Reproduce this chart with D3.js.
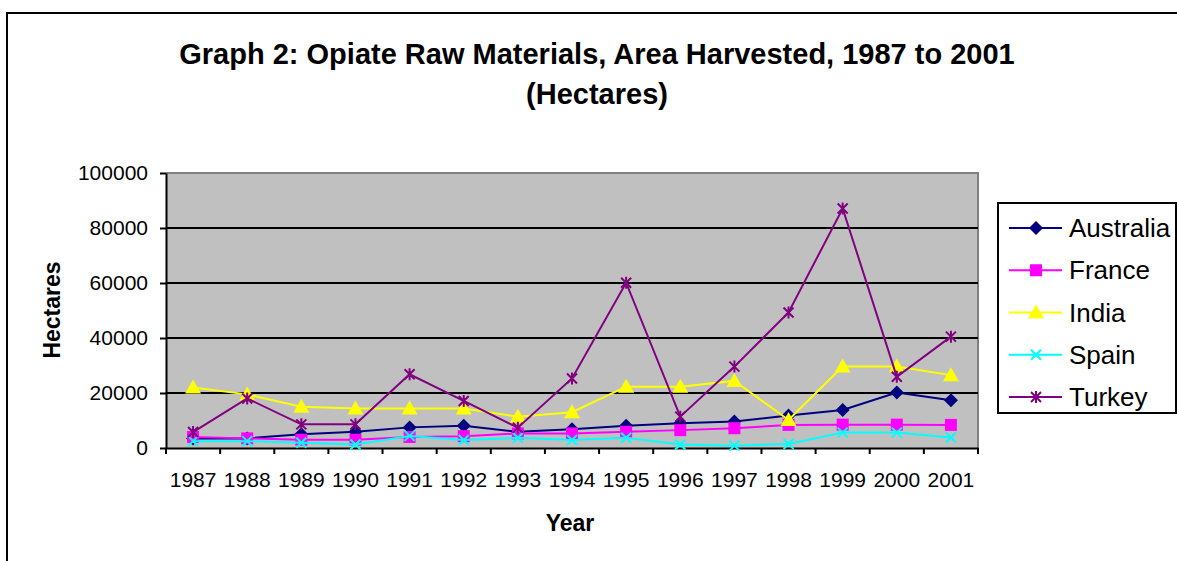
<!DOCTYPE html>
<meta charset="utf-8">
<style>
html, body { margin: 0; background: #fff; }
text { font-family: Arial, "Liberation Sans", sans-serif; fill: #000; }
.grid line { stroke: #000; stroke-width: 2; }
.axis path, .axis line { stroke: #000; stroke-width: 2; }
.axis text { font-size: 21px; }
.series { fill: none; stroke-width: 2; }
</style>
<body>
<script src="https://d3js.org/d3.v7.min.js"></script>
<script>
// data
var years = ["1987","1988","1989","1990","1991","1992","1993","1994","1995","1996","1997","1998","1999","2000","2001"];
var australia = [3500, 3500, 5000, 5900, 7500, 8100, 5900, 6800, 8100, 9000, 9600, 11800, 13800, 20200, 17400];
var france    = [4000, 3500, 3000, 3000, 4000, 4300, 5300, 5300, 5900, 6500, 7200, 8400, 8500, 8500, 8400];
var india     = [22000, 19500, 15000, 14400, 14400, 14400, 11400, 13000, 22300, 22300, 24400, 10200, 29600, 29600, 26500];
var spain     = [2500, 2500, 1900, 1300, 4400, 2900, 3700, 2900, 3700, 1300, 850, 1450, 5600, 5600, 3800];
var turkey    = [5800, 18000, 8600, 8600, 26800, 17100, 7400, 25300, 60100, 11400, 29600, 49300, 87100, 25900, 40500];
var yTicks = [0, 20000, 40000, 60000, 80000, 100000];

var series = [
  {name: "Australia", values: australia, color: "#000080", symbol: "diamond"},
  {name: "France",    values: france,    color: "#ff00ff", symbol: "square"},
  {name: "India",     values: india,     color: "#ffff00", symbol: "triangle"},
  {name: "Spain",     values: spain,     color: "#00ffff", symbol: "x"},
  {name: "Turkey",    values: turkey,    color: "#800080", symbol: "star"}
];

var W = 1177, H = 561;
var plot = {left: 166, top: 173, right: 978, bottom: 448};

var svg = d3.select("body").append("svg")
    .attr("width", W).attr("height", H);

// outer chart border (runs off right and bottom)
svg.append("rect")
    .attr("x", 7).attr("y", 13).attr("width", W + 10).attr("height", H + 10)
    .attr("fill", "#fff").attr("stroke", "#000").attr("stroke-width", 2);

var x = d3.scaleBand().domain(years).range([plot.left, plot.right]);
var y = d3.scaleLinear().domain([0, 100000]).range([plot.bottom, plot.top]);

// plot background
svg.append("rect")
    .attr("x", plot.left).attr("y", plot.top)
    .attr("width", plot.right - plot.left).attr("height", plot.bottom - plot.top)
    .attr("fill", "#c0c0c0");
svg.append("path")
    .attr("d", "M" + plot.left + "," + plot.top + "H" + plot.right + "V" + plot.bottom)
    .attr("fill", "none").attr("stroke", "#808080").attr("stroke-width", 2);

// gridlines
svg.append("g").attr("class", "grid")
  .selectAll("line").data(yTicks.slice(1, -1)).join("line")
    .attr("x1", plot.left).attr("x2", plot.right)
    .attr("y1", d => y(d)).attr("y2", d => y(d));

// y axis
svg.append("g").attr("class", "axis")
    .attr("transform", "translate(" + plot.left + ",0)")
    .call(d3.axisLeft(y).tickValues(yTicks).tickFormat(d3.format("d")).tickSize(6).tickSizeOuter(0).tickPadding(12));

// x axis: ticks on category boundaries, labels centred
var xAxis = svg.append("g").attr("class", "axis")
    .attr("transform", "translate(0," + plot.bottom + ")")
    .call(d3.axisBottom(x).tickSize(0).tickSizeOuter(0).tickPadding(24));
xAxis.selectAll("text").attr("dy", "0.71em");
xAxis.selectAll("line.bound").data(years.concat(["end"])).join("line")
    .attr("class", "bound")
    .attr("x1", (d, i) => plot.left + i * x.bandwidth())
    .attr("x2", (d, i) => plot.left + i * x.bandwidth())
    .attr("y1", 0).attr("y2", 6);

// symbols
function drawSymbol(g, type, color) {
  if (type === "diamond") {
    g.append("path").attr("d", "M0,-7L7,0L0,7L-7,0Z").attr("fill", color);
  } else if (type === "square") {
    g.append("rect").attr("x", -6).attr("y", -6).attr("width", 12).attr("height", 12).attr("fill", color);
  } else if (type === "triangle") {
    g.append("path").attr("d", "M0,-8L8,6L-8,6Z").attr("fill", color);
  } else if (type === "x") {
    g.append("path").attr("d", "M-5,-5L5,5M-5,5L5,-5").attr("stroke", color).attr("stroke-width", 2);
  } else if (type === "star") {
    g.append("path").attr("d", "M-5,-5L5,5M-5,5L5,-5M0,-6V6").attr("stroke", color).attr("stroke-width", 2);
  }
}

var line = d3.line()
    .x((d, i) => x(years[i]) + x.bandwidth() / 2)
    .y(d => y(d));

series.forEach(function(s) {
  svg.append("path").attr("class", "series")
      .attr("stroke", s.color).attr("d", line(s.values));
  s.values.forEach(function(v, i) {
    var g = svg.append("g")
        .attr("transform", "translate(" + (x(years[i]) + x.bandwidth() / 2) + "," + y(v) + ")");
    drawSymbol(g, s.symbol, s.color);
  });
});

// titles
var title = svg.append("text")
    .attr("x", 597).attr("y", 64)
    .attr("text-anchor", "middle")
    .style("font-size", "29px").style("font-weight", "bold");
title.append("tspan").attr("x", 597).text("Graph 2: Opiate Raw Materials, Area Harvested, 1987 to 2001");
title.append("tspan").attr("x", 597).attr("dy", 40).text("(Hectares)");

svg.append("text")
    .attr("transform", "translate(60,310) rotate(-90)")
    .attr("text-anchor", "middle")
    .style("font-size", "23px").style("font-weight", "bold")
    .text("Hectares");

svg.append("text")
    .attr("x", 570).attr("y", 531)
    .attr("text-anchor", "middle")
    .style("font-size", "23px").style("font-weight", "bold")
    .text("Year");

// legend
var legend = svg.append("g");
legend.append("rect")
    .attr("x", 998).attr("y", 203).attr("width", 178).attr("height", 210)
    .attr("fill", "#fff").attr("stroke", "#000").attr("stroke-width", 2);
var rowY = d3.scalePoint().domain(series.map(s => s.name)).range([228, 397]);
series.forEach(function(s) {
  var ly = rowY(s.name);
  legend.append("line")
      .attr("x1", 1009).attr("x2", 1062).attr("y1", ly).attr("y2", ly)
      .attr("stroke", s.color).attr("stroke-width", 2);
  var g = legend.append("g").attr("transform", "translate(1036," + ly + ")");
  drawSymbol(g, s.symbol, s.color);
  legend.append("text")
      .attr("x", 1069).attr("y", ly + 9)
      .style("font-size", "26px")
      .text(s.name);
});
</script>
</body>
